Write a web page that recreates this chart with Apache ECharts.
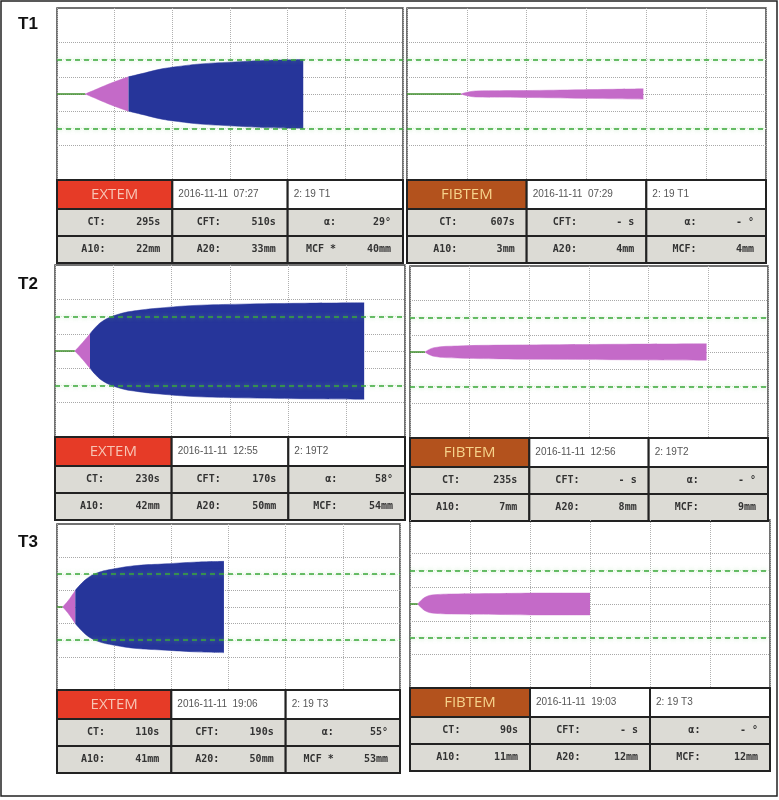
<!DOCTYPE html>
<html>
<head>
    <script src="https://cdn.jsdelivr.net/npm/echarts@6/dist/echarts.min.js"></script>
</head>
<body style="margin:0;background:#fff">
<div id="echartsMain" style="width: 779px; height: 800px;"></div>
</body>
</html>

<script type="text/javascript">
    // traces: time in minutes, amplitude in mm (drawn as +/- amp/2)
    // ct = end of flat green line, pink part until split time, blue after
    const t1ExtemCt = 4.9
    const t1ExtemPinkT = [4.9, 7, 9.5, 12.4]
    const t1ExtemPinkA = [0, 6, 13, 20]
    const t1ExtemBlueT = [12.4, 14.9, 18, 21, 24.9, 30, 36, 42.7]
    const t1ExtemBlueA = [20, 24, 29, 32, 35, 37, 39, 40]

    const t1FibtemCt = 9
    const t1FibtemPinkT = [9, 11.5, 19.5, 29.5, 39.5]
    const t1FibtemPinkA = [0, 3.5, 4, 5, 6]

    const t2ExtemCt = 3.4
    const t2ExtemPinkT = [3.4, 4.5, 6]
    const t2ExtemPinkA = [0, 8, 20]
    const t2ExtemBlueT = [6, 8, 11, 14, 18, 24, 32, 42, 53]
    const t2ExtemBlueA = [20, 34, 43, 47, 50, 53, 54.5, 55.5, 56]

    const t2FibtemCt = 2.5
    const t2FibtemPinkT = [2.5, 4, 8, 15, 25, 35, 49.7]
    const t2FibtemPinkA = [0, 5, 7, 8, 8.5, 9, 9.5]

    const t3ExtemCt = 1
    const t3ExtemPinkT = [1, 2, 3.2]
    const t3ExtemPinkA = [0, 8, 20]
    const t3ExtemBlueT = [3.2, 5, 7, 10, 14, 19, 24, 29.2]
    const t3ExtemBlueA = [20, 33, 41, 46, 50, 52, 54, 55]

    const t3FibtemCt = 1.3
    const t3FibtemPinkT = [1.3, 2.5, 4, 8, 15, 22, 30]
    const t3FibtemPinkA = [0, 8, 11, 12, 12.5, 13, 13]

    // table texts
    const rowLabels = ['T1', 'T2', 'T3']
    const testNames = ['EXTEM', 'FIBTEM', 'EXTEM', 'FIBTEM', 'EXTEM', 'FIBTEM']
    const dates = ['2016-11-11  07:27', '2016-11-11  07:29', '2016-11-11  12:55', '2016-11-11  12:56', '2016-11-11  19:06', '2016-11-11  19:03']
    const sampleIds = ['2: 19 T1', '2: 19 T1', '2: 19T2', '2: 19T2', '2: 19 T3', '2: 19 T3']
    const ctVals = ['295s', '607s', '230s', '235s', '110s', '90s']
    const cftVals = ['510s', '- s', '170s', '- s', '190s', '- s']
    const alphaVals = ['29°', '- °', '58°', '- °', '55°', '- °']
    const a10Vals = ['22mm', '3mm', '42mm', '7mm', '41mm', '11mm']
    const a20Vals = ['33mm', '4mm', '50mm', '8mm', '50mm', '12mm']
    const mcfLabels = ['MCF *', 'MCF:', 'MCF:', 'MCF:', 'MCF *', 'MCF:']
    const mcfVals = ['40mm', '4mm', '54mm', '9mm', '53mm', '12mm']

    const traces = [
        {ct: t1ExtemCt, pt: t1ExtemPinkT, pa: t1ExtemPinkA, bt: t1ExtemBlueT, ba: t1ExtemBlueA},
        {ct: t1FibtemCt, pt: t1FibtemPinkT, pa: t1FibtemPinkA},
        {ct: t2ExtemCt, pt: t2ExtemPinkT, pa: t2ExtemPinkA, bt: t2ExtemBlueT, ba: t2ExtemBlueA},
        {ct: t2FibtemCt, pt: t2FibtemPinkT, pa: t2FibtemPinkA},
        {ct: t3ExtemCt, pt: t3ExtemPinkT, pa: t3ExtemPinkA, bt: t3ExtemBlueT, ba: t3ExtemBlueA},
        {ct: t3FibtemCt, pt: t3FibtemPinkT, pa: t3FibtemPinkA},
    ]

    // panel boxes [left, top, width, graphHeight]
    const boxes = [
        [57, 8, 346, 172], [407, 8, 359, 172],
        [55, 265, 350, 172], [410, 266, 358, 172],
        [57, 524, 343, 166], [410, 520, 360, 168],
    ]

    const BLUE = '#26359a', PINK = '#c46ac8', GREEN = '#3f8f2c'

    function draw() {
        let myChart = echarts.init(document.getElementById('echartsMain'));
        let grids = [], xAxes = [], yAxes = [], series = [], graphic = []

        graphic.push({type: 'rect', shape: {x: 1, y: 1, width: 776, height: 795},
            style: {fill: 'none', stroke: '#222', lineWidth: 1.5}, silent: true})
        rowLabels.forEach((t, i) => {
            graphic.push({type: 'text', left: 18, top: [16, 276, 534][i],
                style: {text: t, font: 'bold 17px Liberation Sans', fill: '#111'}})
        })

        boxes.forEach((b, i) => {
            grids.push({left: b[0], top: b[1], width: b[2], height: b[3], show: true,
                borderColor: '#444', borderWidth: 1.5, backgroundColor: '#fff'})
            xAxes.push({gridIndex: i, type: 'value', min: 0, max: 60, interval: 10,
                axisLine: {show: false}, axisTick: {show: false}, axisLabel: {show: false},
                splitLine: {lineStyle: {color: '#b0b0b0', type: 'dotted', width: 1}}})
            yAxes.push({gridIndex: i, type: 'value', min: -50, max: 50, interval: 10,
                axisLine: {show: false}, axisTick: {show: false}, axisLabel: {show: false},
                splitLine: {lineStyle: {type: 'dotted', width: 1,
                    color: ['transparent', 'transparent', '#a8a8a8', '#dcefd6', '#a8a8a8', '#a8a8a8', '#a8a8a8', '#dcefd6', '#a8a8a8', 'transparent', 'transparent']}}})

            let tr = traces[i]
            // green baseline + green dashed reference lines
            series.push({type: 'line', xAxisIndex: i, yAxisIndex: i, data: [[0, 0], [tr.ct, 0]],
                symbol: 'none', lineStyle: {color: GREEN, width: 1.5}, z: 3,
                markLine: {silent: true, symbol: 'none', label: {show: false},
                    lineStyle: {color: '#3aa83a', type: [5, 4], width: 1.5, shadowColor: 'rgba(120,200,120,0.6)', shadowBlur: 4},
                    data: [{yAxis: 20}, {yAxis: -20}]}})
            let parts = [[tr.pt, tr.pa, PINK]]
            if (tr.bt) parts.push([tr.bt, tr.ba, BLUE])
            parts.forEach(([ts, as, col]) => {
                [1, -1].forEach(sg => {
                    series.push({type: 'line', xAxisIndex: i, yAxisIndex: i, symbol: 'none', smooth: 0.4,
                        data: ts.map((t, k) => [t, sg * as[k] / 2]),
                        lineStyle: {width: 0.5, color: col}, areaStyle: {color: col, opacity: 1, origin: 0}, z: 4})
                })
            })

            // table under graph
            let x0 = b[0], w = b[2], y0 = b[1] + b[3], cw = w / 3
            let rh = [29, 27, 27]
            let fills = [[i % 2 ? '#b3521d' : '#e63b27', '#fff', '#fff'], ['#dcdbd5', '#dcdbd5', '#dcdbd5'], ['#dcdbd5', '#dcdbd5', '#dcdbd5']]
            let y = y0
            for (let r = 0; r < 3; r++) {
                for (let c = 0; c < 3; c++) {
                    graphic.push({type: 'rect', shape: {x: x0 + c * cw, y: y, width: cw, height: rh[r]},
                        style: {fill: fills[r][c], stroke: '#222', lineWidth: 2}, silent: true})
                }
                let cy = y + rh[r] / 2
                if (r === 0) {
                    graphic.push({type: 'text', x: x0 + cw / 2, y: cy, style: {text: testNames[i], align: 'center', verticalAlign: 'middle',
                            font: '15px Open Sans', fill: i % 2 ? '#f6d38c' : '#f7c4b4'}})
                    graphic.push({type: 'text', x: x0 + cw + 6, y: cy, style: {text: dates[i], verticalAlign: 'middle', font: '10px Liberation Sans', fill: '#555'}})
                    graphic.push({type: 'text', x: x0 + 2 * cw + 6, y: cy, style: {text: sampleIds[i], verticalAlign: 'middle', font: '10px Liberation Sans', fill: '#555'}})
                } else {
                    let labs = r === 1 ? ['CT:', 'CFT:', 'α:'] : ['A10:', 'A20:', mcfLabels[i]]
                    let vals = r === 1 ? [ctVals[i], cftVals[i], alphaVals[i]] : [a10Vals[i], a20Vals[i], mcfVals[i]]
                    for (let c = 0; c < 3; c++) {
                        graphic.push({type: 'text', x: x0 + c * cw + cw * 0.42, y: cy, style: {text: labs[c], align: 'right', verticalAlign: 'middle',
                                font: 'bold 10px DejaVu Sans Mono', fill: '#333'}})
                        graphic.push({type: 'text', x: x0 + (c + 1) * cw - 12, y: cy, style: {text: vals[c], align: 'right', verticalAlign: 'middle',
                                font: 'bold 10px DejaVu Sans Mono', fill: '#333'}})
                    }
                }
                y += rh[r]
            }
        })

        var option = {
            animation: false,
            grid: grids,
            xAxis: xAxes,
            yAxis: yAxes,
            series: series,
            graphic: graphic
        };
        myChart.setOption(option);
    }

    draw()
</script>
